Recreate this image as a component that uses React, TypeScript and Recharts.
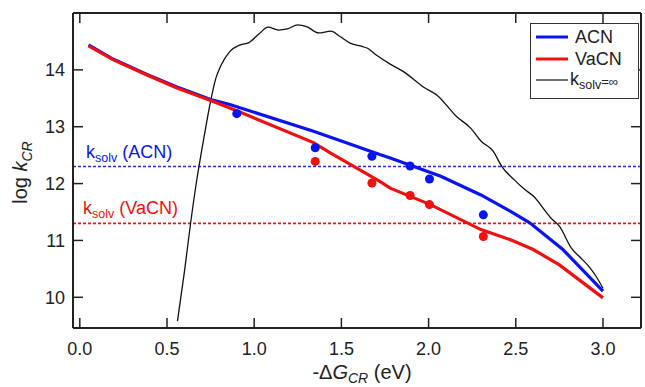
import { ComposedChart, Line, Scatter, XAxis, YAxis, ReferenceLine, Legend } from 'recharts';

// fitted curves, [-dG (eV), log kCR]
const acnCurve = [
  [0.05, 14.44], [0.19, 14.19], [0.385, 13.92], [0.557, 13.7], [0.75, 13.48], [0.86, 13.39],
  [1.34, 12.92], [1.72, 12.51], [1.78, 12.45], [2.07, 12.13], [2.3, 11.8], [2.47, 11.51],
  [2.58, 11.31], [2.77, 10.84], [3.0, 10.11]
];
const vacnCurve = [
  [0.05, 14.42], [0.19, 14.18], [0.385, 13.91], [0.557, 13.68], [0.75, 13.46], [0.9, 13.28],
  [1.34, 12.72], [1.436, 12.54], [1.72, 12.04], [1.78, 11.92], [2.01, 11.63], [2.3, 11.19],
  [2.47, 11.01], [2.6, 10.84], [2.75, 10.57], [3.0, 9.99]
];
const infCurve = [
  [0.56, 9.58], [0.6, 10.45], [0.633, 11.25], [0.67, 12.05], [0.7, 12.6], [0.72, 12.95],
  [0.75, 13.45], [0.78, 13.85], [0.81, 14.08], [0.86, 14.32], [0.92, 14.44], [0.97, 14.48],
  [1.03, 14.64], [1.08, 14.75], [1.14, 14.7], [1.19, 14.72], [1.25, 14.79], [1.3, 14.76],
  [1.37, 14.65], [1.44, 14.68], [1.49, 14.59], [1.55, 14.47], [1.61, 14.42], [1.65, 14.38],
  [1.7, 14.26], [1.78, 14.1], [1.86, 13.96], [1.97, 13.7], [2.05, 13.55], [2.16, 13.18],
  [2.24, 12.98], [2.3, 12.75], [2.37, 12.57], [2.42, 12.3], [2.49, 12.07], [2.55, 11.9],
  [2.6, 11.78], [2.7, 11.4], [2.75, 11.25], [2.82, 10.86], [2.87, 10.7], [2.92, 10.54],
  [2.96, 10.37], [3.0, 10.16]
];

// measured points
const acnDotX = [0.9, 1.35, 1.675, 1.894, 2.005, 2.314];
const acnDotY = [13.23, 12.63, 12.48, 12.31, 12.08, 11.45];
const vacnDotX = [1.35, 1.675, 1.894, 2.005, 2.314];
const vacnDotY = [12.39, 12.01, 11.79, 11.63, 11.07];

const ksolvAcn = 12.3;
const ksolvVacn = 11.3;

const xTicks = [0, 0.5, 1, 1.5, 2, 2.5, 3];
const yTicks = [10, 11, 12, 13, 14];

const FONT = '"Liberation Sans", Arial, sans-serif';
const BLUE = '#0a14f0';
const RED = '#f01010';
const FRAME = '#222';

const toPts = (arr: number[][]) => arr.map(([x, y]) => ({ x, y }));
const zipPts = (xs: number[], ys: number[]) => xs.map((x, i) => ({ x, y: ys[i] }));

const BottomTick = ({ x, y, payload }: any) => (
  <g>
    <line x1={x} x2={x} y1={y} y2={y - 10} stroke={FRAME} strokeWidth={1.5} />
    <text x={x} y={y + 27} textAnchor="middle" fontSize={18} fontFamily={FONT} fill="#222">
      {Number(payload.value).toFixed(1)}
    </text>
  </g>
);
const TopTick = ({ x, y }: any) => (
  <line x1={x} x2={x} y1={y} y2={y + 10} stroke={FRAME} strokeWidth={1.5} />
);
const LeftTick = ({ x, y, payload }: any) => (
  <g>
    <line x1={x} x2={x + 10} y1={y} y2={y} stroke={FRAME} strokeWidth={1.5} />
    <text x={x - 8} y={y + 6.5} textAnchor="end" fontSize={18} fontFamily={FONT} fill="#222">
      {payload.value}
    </text>
  </g>
);
const RightTick = ({ x, y }: any) => (
  <line x1={x} x2={x - 10} y1={y} y2={y} stroke={FRAME} strokeWidth={1.5} />
);

const XTitle = ({ viewBox }: any) => {
  const cx = viewBox.x + viewBox.width / 2 + 5;
  return (
    <text x={cx} y={379} textAnchor="middle" fontSize={20} fontFamily={FONT} fill="#222">
      -Δ<tspan fontStyle="italic">G</tspan>
      <tspan fontStyle="italic" fontSize={14} dy={4}>CR</tspan>
      <tspan dy={-4}> (eV)</tspan>
    </text>
  );
};

const YTitle = ({ viewBox }: any) => {
  const cy = viewBox.y + viewBox.height / 2 + 2;
  const bx = 27;
  return (
    <text x={bx} y={cy} transform={`rotate(-90, ${bx}, ${cy})`} textAnchor="middle" fontSize={20} fontFamily={FONT} fill="#222">
      log <tspan fontStyle="italic">k</tspan>
      <tspan fontStyle="italic" fontSize={14} dy={5}>CR</tspan>
    </text>
  );
};

const ksolvLabel = (name: string, color: string, dx: number) => ({ viewBox }: any) => (
  <text x={viewBox.x + dx} y={viewBox.y - 9} fontSize={18} fontFamily={FONT} fill={color}>
    k<tspan fontSize={12.5} dy={4}>solv</tspan>
    <tspan dy={-4}>{` (${name})`}</tspan>
  </text>
);

const LegendBox = () => (
  <svg width={110} height={77} style={{ display: 'block' }}>
    <rect x={0.5} y={0.5} width={108} height={75} fill="#fff" stroke="#333" strokeWidth={1} />
    <line x1={6} x2={38} y1={14} y2={14} stroke={BLUE} strokeWidth={3} />
    <text x={45} y={20} fontSize={18} fontFamily={FONT} fill="#222">ACN</text>
    <line x1={6} x2={38} y1={36} y2={36} stroke={RED} strokeWidth={3} />
    <text x={45} y={42} fontSize={18} fontFamily={FONT} fill="#222">VaCN</text>
    <line x1={6} x2={38} y1={57} y2={57} stroke="#111" strokeWidth={1.2} />
    <text x={40} y={62} fontSize={18} fontFamily={FONT} fill="#222">
      k<tspan fontSize={12.5} dy={4}>solv</tspan>
      <tspan fontSize={13} dy={-3}>=∞</tspan>
    </text>
  </svg>
);

export default function App() {
  return (
    <div style={{ position: 'absolute', left: 0, top: 0, width: 645, height: 387, background: '#fff' }}>
      <ComposedChart width={645} height={387} margin={{ top: 0, right: 0, bottom: 0, left: 0 }}>
        <XAxis
          xAxisId="b"
          type="number"
          dataKey="x"
          domain={[-0.039, 3.218]}
          allowDataOverflow
          ticks={xTicks}
          interval={0}
          height={59}
          tickSize={0}
          tickMargin={0}
          tickLine={false}
          tick={<BottomTick />}
          axisLine={{ stroke: FRAME, strokeWidth: 2 }}
          label={{ content: XTitle }}
        />
        <XAxis
          xAxisId="t"
          orientation="top"
          type="number"
          dataKey="x"
          domain={[-0.039, 3.218]}
          allowDataOverflow
          ticks={xTicks}
          interval={0}
          height={13}
          tickSize={0}
          tickMargin={0}
          tickLine={false}
          tick={<TopTick />}
          axisLine={{ stroke: FRAME, strokeWidth: 2 }}
        />
        <YAxis
          yAxisId="l"
          type="number"
          dataKey="y"
          domain={[9.46, 15.0]}
          allowDataOverflow
          ticks={yTicks}
          interval={0}
          width={73}
          tickSize={0}
          tickMargin={0}
          tickLine={false}
          tick={<LeftTick />}
          axisLine={{ stroke: FRAME, strokeWidth: 2 }}
          label={{ content: YTitle }}
        />
        <YAxis
          yAxisId="r"
          orientation="right"
          type="number"
          dataKey="y"
          domain={[9.46, 15.0]}
          allowDataOverflow
          ticks={yTicks}
          interval={0}
          width={4}
          tickSize={0}
          tickMargin={0}
          tickLine={false}
          tick={<RightTick />}
          axisLine={{ stroke: FRAME, strokeWidth: 2 }}
        />
        <ReferenceLine
          xAxisId="b"
          yAxisId="l"
          y={ksolvAcn}
          stroke="#2a2ae0"
          strokeWidth={1.6}
          strokeDasharray="3 2"
          label={{ content: ksolvLabel('ACN', BLUE, 13) }}
        />
        <ReferenceLine
          xAxisId="b"
          yAxisId="l"
          y={ksolvVacn}
          stroke="#e8181c"
          strokeWidth={1.6}
          strokeDasharray="3 2"
          label={{ content: ksolvLabel('VaCN', RED, 10) }}
        />
        <Line
          xAxisId="b"
          yAxisId="l"
          data={toPts(infCurve)}
          dataKey="y"
          type="monotone"
          stroke="#111"
          strokeWidth={1.3}
          dot={false}
          isAnimationActive={false}
        />
        <Line
          xAxisId="b"
          yAxisId="l"
          data={toPts(acnCurve)}
          dataKey="y"
          type="linear"
          stroke={BLUE}
          strokeWidth={3.2}
          dot={false}
          isAnimationActive={false}
        />
        <Line
          xAxisId="b"
          yAxisId="l"
          data={toPts(vacnCurve)}
          dataKey="y"
          type="linear"
          stroke={RED}
          strokeWidth={3.2}
          dot={false}
          isAnimationActive={false}
        />
        <Scatter
          xAxisId="b"
          yAxisId="l"
          data={zipPts(acnDotX, acnDotY)}
          fill={BLUE}
          shape="circle"
          isAnimationActive={false}
        />
        <Scatter
          xAxisId="b"
          yAxisId="l"
          data={zipPts(vacnDotX, vacnDotY)}
          fill={RED}
          shape="circle"
          isAnimationActive={false}
        />
        <Legend
          layout="vertical"
          align="center"
          verticalAlign="middle"
          content={() => <LegendBox />}
          wrapperStyle={{ position: 'absolute', top: 23, left: 530, width: 110, height: 77 }}
        />
      </ComposedChart>
    </div>
  );
}
